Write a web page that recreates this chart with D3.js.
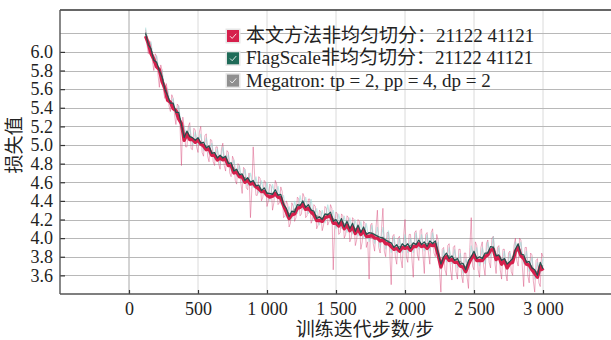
<!DOCTYPE html>
<html>
<head>
<meta charset="utf-8">
<script src="https://cdn.jsdelivr.net/npm/d3@7"></script>
<style>
  body { margin: 0; background: #fff; }
  svg { display: block; }
  text { font-family: "Liberation Serif", "Times New Roman", "Noto Sans CJK SC", serif; fill: #222; }
</style>
</head>
<body>
<script>
// training steps sampled every 20 iterations
const steps = d3.range(120, 3001, 20);
// in-between steps for the raw curve (130, 150, ...)
const midSteps = d3.range(130, 3000, 20);

// 本文方法非均匀切分 (smoothed)
const oursLoss = [
  6.17,6.09,5.98,5.92,5.84,5.81,5.68,5.61,5.48,5.46,
  5.39,5.37,5.28,5.23,5.05,5.12,5.06,5.06,5.03,5.05,
  5.01,4.99,4.95,4.96,4.89,4.89,4.84,4.86,4.84,4.85,
  4.78,4.78,4.70,4.71,4.66,4.66,4.60,4.62,4.58,4.59,
  4.55,4.53,4.50,4.50,4.46,4.44,4.45,4.48,4.44,4.43,
  4.35,4.28,4.21,4.25,4.26,4.32,4.33,4.36,4.31,4.32,
  4.28,4.25,4.19,4.19,4.18,4.22,4.23,4.24,4.16,4.16,
  4.13,4.17,4.10,4.14,4.08,4.12,4.05,4.10,4.04,4.08,
  4.02,4.02,4.03,4.00,4.00,3.97,3.98,3.94,3.94,3.91,
  3.88,3.89,3.86,3.90,3.89,3.90,3.87,3.91,3.91,3.94,
  3.91,3.92,3.89,3.93,3.92,3.93,3.82,3.69,3.78,3.80,
  3.76,3.77,3.74,3.74,3.70,3.69,3.64,3.72,3.78,3.82,
  3.76,3.76,3.76,3.80,3.82,3.87,3.88,3.77,3.80,3.72,
  3.76,3.68,3.73,3.74,3.86,3.90,3.81,3.78,3.72,3.71,
  3.66,3.62,3.58,3.70,3.65
];

// FlagScale非均匀切分 (smoothed)
const flagScaleLoss = [
  6.20,6.08,6.03,5.91,5.89,5.80,5.73,5.60,5.53,5.45,
  5.45,5.35,5.35,5.22,5.08,5.15,5.09,5.08,5.05,5.08,
  5.02,5.03,4.97,4.99,4.91,4.92,4.86,4.89,4.86,4.88,
  4.80,4.81,4.72,4.74,4.68,4.69,4.62,4.65,4.60,4.62,
  4.56,4.57,4.51,4.54,4.48,4.48,4.47,4.52,4.46,4.47,
  4.36,4.32,4.23,4.29,4.28,4.36,4.35,4.40,4.33,4.36,
  4.30,4.29,4.21,4.23,4.20,4.26,4.25,4.28,4.18,4.20,
  4.15,4.21,4.12,4.18,4.10,4.16,4.07,4.14,4.06,4.12,
  4.04,4.06,4.05,4.04,4.02,4.01,4.00,3.98,3.96,3.95,
  3.90,3.93,3.88,3.94,3.91,3.94,3.89,3.95,3.93,3.98,
  3.93,3.96,3.91,3.97,3.94,3.97,3.84,3.72,3.80,3.84,
  3.78,3.81,3.76,3.78,3.72,3.73,3.66,3.76,3.80,3.86,
  3.78,3.80,3.78,3.84,3.84,3.91,3.90,3.81,3.82,3.76,
  3.78,3.72,3.75,3.78,3.88,3.94,3.83,3.82,3.74,3.75,
  3.68,3.66,3.60,3.74,3.67
];

// Megatron: tp = 2, pp = 4, dp = 2 (smoothed)
const megatronLoss = [
  6.21,6.11,6.02,5.94,5.87,5.81,5.73,5.63,5.53,5.46,
  5.42,5.38,5.32,5.23,5.11,5.12,5.10,5.07,5.06,5.05,
  5.03,5.00,4.98,4.96,4.92,4.91,4.87,4.88,4.87,4.85,
  4.81,4.78,4.75,4.71,4.69,4.66,4.65,4.62,4.61,4.59,
  4.57,4.56,4.52,4.51,4.49,4.47,4.48,4.49,4.47,4.44,
  4.37,4.31,4.26,4.26,4.31,4.33,4.36,4.37,4.34,4.33,
  4.31,4.26,4.24,4.22,4.21,4.25,4.26,4.25,4.21,4.17,
  4.16,4.18,4.15,4.15,4.11,4.13,4.10,4.11,4.07,4.09,
  4.05,4.05,4.06,4.03,4.03,3.98,4.01,3.97,3.97,3.92,
  3.91,3.90,3.91,3.91,3.92,3.91,3.92,3.94,3.94,3.95,
  3.94,3.93,3.94,3.94,3.95,3.94,3.85,3.75,3.77,3.81,
  3.81,3.78,3.77,3.75,3.75,3.72,3.69,3.73,3.81,3.83,
  3.79,3.79,3.79,3.81,3.85,3.88,3.91,3.82,3.79,3.77,
  3.77,3.73,3.74,3.79,3.85,3.91,3.84,3.79,3.75,3.72,
  3.69,3.65,3.63,3.71,3.70
];

// raw (unsmoothed) loss, 本文方法, at steps
const oursRaw = [
  6.24,5.98,6.08,5.80,5.95,5.62,5.80,5.50,5.58,5.36,
  5.50,5.22,5.42,4.78,5.18,4.98,5.24,4.95,5.16,4.92,
  5.20,4.88,5.12,4.82,5.05,4.78,4.98,4.74,5.02,4.72,
  4.92,4.66,4.84,4.58,4.78,4.48,4.74,4.52,4.22,4.98,
  4.46,4.66,4.40,4.62,4.34,4.58,4.30,4.62,4.36,4.55,
  4.22,4.40,4.12,4.38,4.18,4.44,4.24,4.48,4.22,4.42,
  4.16,4.36,4.10,4.30,4.08,4.34,4.14,4.36,3.66,4.28,
  4.04,4.26,4.00,4.24,3.96,4.22,3.92,4.20,3.88,4.18,
  3.90,3.56,4.16,3.86,4.30,3.84,4.32,3.80,4.06,3.50,
  4.04,3.72,4.02,3.68,4.20,3.74,4.04,3.58,4.08,3.76,
  4.10,3.62,4.06,3.72,4.10,3.80,3.98,3.42,3.90,3.60,
  3.94,3.55,3.92,3.56,3.88,3.52,3.84,3.46,4.22,3.66,
  3.92,3.58,3.96,3.60,3.98,3.68,4.02,3.62,3.92,3.56,
  3.88,3.54,3.86,3.60,4.00,3.70,3.98,3.48,3.90,3.52,
  3.82,3.42,3.78,3.48,3.80
];

// raw (unsmoothed) loss, 本文方法, at midSteps
const oursRawMid = [
  6.08,6.12,5.90,5.98,5.76,5.86,5.58,5.66,5.42,5.54,
  5.32,5.44,5.20,5.30,4.98,5.20,4.96,5.18,4.98,5.14,
  4.92,5.10,4.88,5.06,4.82,4.98,4.80,4.96,4.78,4.94,
  4.70,4.88,4.62,4.80,4.60,4.76,4.54,4.70,4.52,4.68,
  4.46,4.64,4.44,4.60,4.40,4.56,4.38,4.58,4.38,4.50,
  4.24,4.36,4.16,4.34,4.22,4.42,4.26,4.44,4.24,4.42,
  4.20,4.34,4.14,4.28,4.14,4.32,4.18,4.32,4.10,4.26,
  4.06,4.24,4.04,4.22,4.00,4.20,3.98,4.18,3.96,4.16,
  3.96,4.14,3.94,4.12,3.90,4.10,3.86,4.06,3.84,4.02,
  3.80,4.00,3.78,4.02,3.80,4.04,3.78,4.06,3.82,4.08,
  3.82,4.04,3.84,4.06,3.84,4.04,3.66,3.88,3.66,3.92,
  3.66,3.90,3.64,3.88,3.60,3.84,3.58,3.90,3.70,3.96,
  3.66,3.90,3.70,3.94,3.74,4.00,3.76,3.90,3.66,3.88,
  3.62,3.84,3.64,3.92,3.76,4.00,3.70,3.90,3.60,3.84,
  3.54,3.76,3.52,3.84
];

// raw (unsmoothed) loss, FlagScale, at steps
const flagScaleRaw = [
  6.26,6.06,6.10,5.88,5.96,5.76,5.80,5.58,5.60,5.42,
  5.50,5.30,5.42,5.16,5.20,5.06,5.20,5.00,5.14,5.00,
  5.12,4.94,5.08,4.90,5.02,4.84,4.96,4.80,4.98,4.80,
  4.90,4.72,4.84,4.66,4.78,4.60,4.74,4.56,4.70,4.54,
  4.66,4.48,4.62,4.46,4.60,4.40,4.58,4.44,4.56,4.38,
  4.46,4.22,4.34,4.20,4.40,4.26,4.46,4.30,4.44,4.26,
  4.42,4.20,4.32,4.14,4.30,4.16,4.36,4.18,4.30,4.10,
  4.26,4.10,4.24,4.06,4.22,4.04,4.20,4.02,4.18,4.00,
  4.16,3.96,4.14,3.94,4.12,3.90,4.12,3.88,4.08,3.84,
  4.02,3.84,4.00,3.84,4.04,3.84,4.00,3.84,4.06,3.88,
  4.04,3.86,4.04,3.86,4.06,3.88,3.96,3.66,3.88,3.74,
  3.90,3.72,3.88,3.68,3.84,3.62,3.78,3.66,3.92,3.76,
  3.90,3.70,3.90,3.72,3.96,3.80,4.02,3.74,3.90,3.70,
  3.86,3.66,3.84,3.72,3.96,3.84,3.96,3.72,3.86,3.64,
  3.80,3.56,3.74,3.62,3.78
];

const seriesNames = ['本文方法非均匀切分：21122 41121', 'FlagScale非均匀切分：21122 41121', 'Megatron: tp = 2, pp = 4, dp = 2'];
const seriesColors = ['#d61f4c', '#1f6b58', '#8f8f8f'];

const xTicks = [0, 500, 1000, 1500, 2000, 2500, 3000];
const yTicks = [3.6, 3.8, 4.0, 4.2, 4.4, 4.6, 4.8, 5.0, 5.2, 5.4, 5.6, 5.8, 6.0];
const yGridTicks = yTicks.concat([6.2]);

const width = 611, height = 340;
const plot = { left: 60, right: 612, top: 10, bottom: 294 };

const svg = d3.select('body').append('svg')
  .attr('width', width)
  .attr('height', height);

const x = d3.scaleLinear().domain([-500, 3500]).range([plot.left, plot.right]);
const y = d3.scaleLinear().domain([3.4, 6.45]).range([plot.bottom, plot.top]);

svg.append('clipPath').attr('id', 'plotClip')
  .append('rect')
  .attr('x', plot.left).attr('y', plot.top)
  .attr('width', plot.right - plot.left).attr('height', plot.bottom - plot.top);

// grid
svg.append('g').selectAll('line')
  .data(xTicks)
  .enter().append('line')
  .attr('x1', d => x(d)).attr('x2', d => x(d))
  .attr('y1', plot.top).attr('y2', plot.bottom)
  .style('stroke', d => d === 0 ? '#a8a8a8' : '#dadada')
  .style('stroke-width', 1);

svg.append('g').selectAll('line')
  .data(yGridTicks)
  .enter().append('line')
  .attr('x1', plot.left).attr('x2', plot.right)
  .attr('y1', d => Math.round(y(d)) + 0.5).attr('y2', d => Math.round(y(d)) + 0.5)
  .style('stroke', '#b8b8b8')
  .style('stroke-width', 1);

// curves
const linesG = svg.append('g').attr('clip-path', 'url(#plotClip)');
const line = d3.line()
  .x(d => x(d[0]))
  .y(d => y(d[1]));
const pairs = (xs, vs) => vs.map((v, i) => [xs[i], v]);

// merge the two raw samplings into one curve, ordered by step
const oursRawPts = pairs(steps, oursRaw).concat(pairs(midSteps, oursRawMid))
  .sort((a, b) => a[0] - b[0]);

linesG.append('path')
  .datum(oursRawPts)
  .attr('d', line)
  .style('fill', 'none')
  .style('stroke', 'rgba(215, 70, 120, 0.45)')
  .style('stroke-width', 1);

linesG.append('path')
  .datum(pairs(steps, flagScaleRaw))
  .attr('d', line)
  .style('fill', 'none')
  .style('stroke', 'rgba(140, 215, 210, 0.55)')
  .style('stroke-width', 1.1);

linesG.append('path')
  .datum(pairs(steps, megatronLoss))
  .attr('d', line)
  .style('fill', 'none')
  .style('stroke', '#8f8f8f')
  .style('stroke-width', 1.2);

linesG.append('path')
  .datum(pairs(steps, oursLoss))
  .attr('d', line)
  .style('fill', 'none')
  .style('stroke', '#d61f4c')
  .style('stroke-width', 3.4)
  .style('stroke-linejoin', 'round');

linesG.append('path')
  .datum(pairs(steps, flagScaleLoss))
  .attr('d', line)
  .style('fill', 'none')
  .style('stroke', '#24504d')
  .style('stroke-width', 1.2)
  .style('stroke-linejoin', 'round');

// axes
const yAxis = d3.axisLeft(y)
  .tickValues(yTicks)
  .tickSize(-5)
  .tickPadding(7)
  .tickFormat(d3.format('.1f'));

const xAxis = d3.axisBottom(x)
  .tickValues(xTicks)
  .tickSize(-4)
  .tickPadding(8)
  .tickFormat(d => d >= 1000 ? Math.floor(d / 1000) + ' ' + String(d % 1000).padStart(3, '0') : String(d));

const yAxisG = svg.append('g')
  .attr('transform', 'translate(' + plot.left + ',0)')
  .call(yAxis);
const xAxisG = svg.append('g')
  .attr('transform', 'translate(0,' + plot.bottom + ')')
  .call(xAxis);

[yAxisG, xAxisG].forEach(g => {
  g.select('.domain').remove();
  g.selectAll('.tick line').style('stroke', '#333').style('stroke-width', 1.2);
  g.selectAll('.tick text')
    .style('font-family', '"Liberation Serif", serif')
    .style('font-size', '18px')
    .style('fill', '#222');
});

// spines
svg.append('line')
  .attr('x1', plot.left).attr('x2', plot.right)
  .attr('y1', plot.top).attr('y2', plot.top)
  .style('stroke', '#333').style('stroke-width', 1.4);
svg.append('line')
  .attr('x1', plot.left).attr('x2', plot.left)
  .attr('y1', plot.top).attr('y2', plot.bottom)
  .style('stroke', '#555').style('stroke-width', 1.4);
svg.append('line')
  .attr('x1', plot.left).attr('x2', plot.right)
  .attr('y1', plot.bottom).attr('y2', plot.bottom)
  .style('stroke', '#555').style('stroke-width', 1.4);

// axis titles
svg.append('text')
  .attr('x', 365)
  .attr('y', 336)
  .attr('text-anchor', 'middle')
  .style('font-size', '19px')
  .text('训练迭代步数/步');

svg.append('text')
  .attr('transform', 'translate(21,145) rotate(-90)')
  .attr('text-anchor', 'middle')
  .style('font-size', '19px')
  .text('损失值');

// legend
const legendG = svg.append('g').attr('transform', 'translate(227,30)');
const rows = legendG.selectAll('.legendRow')
  .data(seriesNames)
  .enter()
  .append('g')
  .attr('class', 'legendRow')
  .attr('transform', (d, i) => 'translate(0,' + (i * 22.3) + ')');

rows.append('rect')
  .attr('x', -1.5).attr('y', -1.5)
  .attr('width', 15).attr('height', 15)
  .style('fill', '#e6e6e6');
rows.append('rect')
  .attr('width', 12).attr('height', 12)
  .style('fill', (d, i) => seriesColors[i]);
rows.append('path')
  .attr('d', 'M3,6.2 L5.2,8.4 L9.2,3.8')
  .style('fill', 'none')
  .style('stroke', 'rgba(255,255,255,0.85)')
  .style('stroke-width', 1);
rows.append('text')
  .attr('x', 19)
  .attr('y', 12)
  .style('font-size', '19px')
  .text(d => d);
</script>
</body>
</html>
